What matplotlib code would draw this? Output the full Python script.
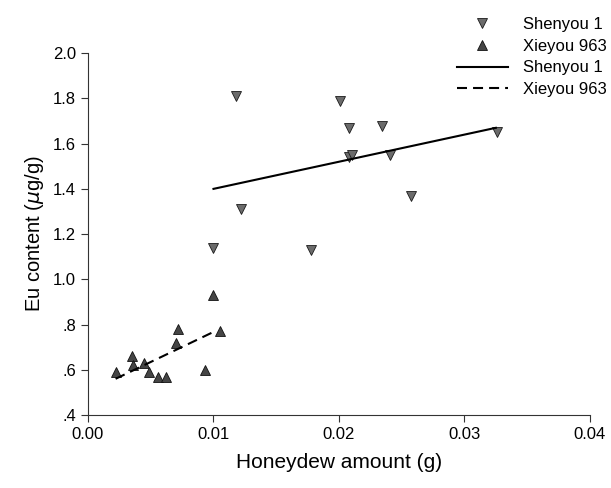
import numpy as np
import matplotlib
matplotlib.use("Agg")
import matplotlib.pyplot as plt

plt.rcParams['font.family'] = ['Liberation Sans', 'DejaVu Sans']

# Shenyou 1 points
shen_x = [0.0118, 0.0201, 0.0208, 0.0208, 0.0210, 0.0234, 0.0241, 0.0257, 0.0326,
          0.0122, 0.0178, 0.0100]
shen_y = [1.81, 1.79, 1.67, 1.54, 1.55, 1.68, 1.55, 1.37, 1.65,
          1.31, 1.13, 1.14]

# Xieyou 963 points
xie_x = [0.0022, 0.0035, 0.0036, 0.0045, 0.0049, 0.0056, 0.0062, 0.0070, 0.0072,
         0.0093, 0.0100, 0.0105]
xie_y = [0.59, 0.66, 0.62, 0.63, 0.59, 0.57, 0.57, 0.72, 0.78,
         0.60, 0.93, 0.77]

# regression line ends
shen_line_x = [0.0100, 0.0325]
shen_line_y = [1.40, 1.67]
xie_line_x = [0.0022, 0.0101]
xie_line_y = [0.56, 0.77]

xticks = [0.00, 0.01, 0.02, 0.03, 0.04]
xtick_labels = ['0.00', '0.01', '0.02', '0.03', '0.04']
yticks = [0.4, 0.6, 0.8, 1.0, 1.2, 1.4, 1.6, 1.8, 2.0]
ytick_labels = ['.4', '.6', '.8', '1.0', '1.2', '1.4', '1.6', '1.8', '2.0']

fig = plt.figure(figsize=(6.11, 4.88), dpi=100)
ax = fig.add_axes([0.144, 0.1496, 0.8216, 0.7414])

ax.plot(shen_x, shen_y, linestyle='none', marker='v', markersize=7.5,
        markerfacecolor='#6b6b6b', markeredgecolor='#1a1a1a', markeredgewidth=0.6,
        label='Shenyou 1')
ax.plot(xie_x, xie_y, linestyle='none', marker='^', markersize=7.5,
        markerfacecolor='#454545', markeredgecolor='#111111', markeredgewidth=0.6,
        label='Xieyou 963')
ax.plot(shen_line_x, shen_line_y, color='black', lw=1.5, label='Shenyou 1')
ax.plot(xie_line_x, xie_line_y, color='black', lw=1.5, dashes=(4.8, 2.9),
        label='Xieyou 963')

ax.set_xlim(0, 0.04)
ax.set_ylim(0.4, 2.0)
ax.set_xticks(xticks)
ax.set_xticklabels(xtick_labels)
ax.set_yticks(yticks)
ax.set_yticklabels(ytick_labels)
ax.tick_params(labelsize=12, direction='out', length=5, width=0.8, color='#333333')

for s in ['top', 'right']:
    ax.spines[s].set_visible(False)
for s in ['left', 'bottom']:
    ax.spines[s].set_linewidth(0.8)
    ax.spines[s].set_color('#333333')

ax.set_xlabel('Honeydew amount (g)', fontsize=15, labelpad=8)
ax.set_ylabel(r'Eu content ($\mu$g/g)', fontsize=14.5, labelpad=5)

fig.legend(loc='upper left', bbox_to_anchor=(0.748, 0.965), frameon=False,
           fontsize=12, handlelength=3.05, handletextpad=0.9, labelspacing=0.4,
           borderpad=0, borderaxespad=0)

fig.savefig('out.png', dpi=100)
